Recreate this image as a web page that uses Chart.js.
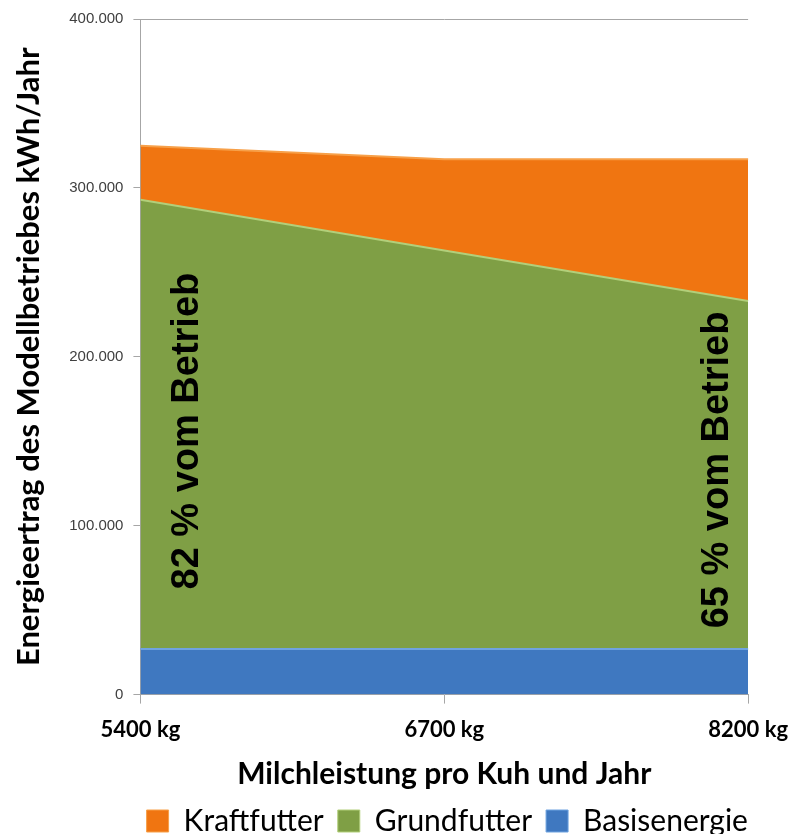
<!DOCTYPE html>
<html>
<head>
<meta charset="utf-8">
<script src="https://cdn.jsdelivr.net/npm/chart.js@4/dist/chart.umd.min.js"></script>
<style>
	body { margin:0; background:#fff; }
	#wrap { position:relative; width:791px; height:834px; }
</style>
</head>
<body>
<div id="wrap"><canvas id="c"></canvas></div>
<script>
const kategorien = ['5400 kg', '6700 kg', '8200 kg']
const basisenergie = [27000, 27000, 27000]
const grundfutter = [266000, 236000, 206000]
const kraftfutter = [32000, 54000, 84000]
const yTicks = [0, 100000, 200000, 300000, 400000]
const anteile = ['82 % vom Betrieb', '65 % vom Betrieb']

const fmt = v => String(v).replace(/\B(?=(\d{3})+(?!\d))/g, '.')

// gedrehte Beschriftung im gruenen Bereich
const anteilText = {
	id: 'anteilText',
	afterDatasetsDraw(chart) {
		const {ctx, scales: {x, y}} = chart
		ctx.save()
		ctx.font = 'bold 38px "Liberation Sans", Arial, sans-serif'
		ctx.fillStyle = '#000'
		ctx.textAlign = 'center'
		ctx.textBaseline = 'middle'
		;[[x.getPixelForValue(0) + 47, y.getPixelForValue(156000), anteile[0]],
		  [x.getPixelForValue(2) - 31, y.getPixelForValue(133000), anteile[1]]].forEach(a => {
			ctx.save()
			ctx.translate(a[0], a[1])
			ctx.rotate(-Math.PI / 2)
			ctx.fillText(a[2], 0, 0)
			ctx.restore()
		})
		ctx.restore()
	}
}

// Legende unter der Zeichenflaeche zentrieren
const legendeMitte = {
	id: 'legendeMitte',
	afterLayout(chart) {
		const l = chart.legend, a = chart.chartArea
		const d = (a.left + a.right) / 2 - (l.left + l.right) / 2 + 3
		l.left += d
		l.right += d
	}
}

new Chart(document.getElementById('c'), {
	type: 'line',
	data: {
		labels: kategorien,
		datasets: [
			{
				label: 'Basisenergie',
				data: basisenergie,
				fill: 'origin',
				backgroundColor: '#3f78c0',
				borderColor: '#6fa3e0',
				borderWidth: 2,
				pointRadius: 0,
				tension: 0,
			},
			{
				label: 'Grundfutter',
				data: grundfutter,
				fill: '-1',
				backgroundColor: '#7f9f45',
				borderColor: '#b2cf7a',
				borderWidth: 2,
				pointRadius: 0,
				tension: 0,
			},
			{
				label: 'Kraftfutter',
				data: kraftfutter,
				fill: '-1',
				backgroundColor: '#f07511',
				borderColor: '#f7a049',
				borderWidth: 2,
				pointRadius: 0,
				tension: 0,
			},
		]
	},
	options: {
		responsive: true,
		maintainAspectRatio: false,
		animation: false,
		layout: { padding: { top: -2, right: 0, left: 10, bottom: -12 } },
		plugins: {
			tooltip: { enabled: false },
			legend: {
				position: 'bottom',
				reverse: true,
				labels: {
					color: '#000',
					boxWidth: 22,
					boxHeight: 22,
					padding: 14,
					font: { family: 'Lato, "Open Sans", sans-serif', size: 30 },
					generateLabels: chart => chart.data.datasets.map((d, i) => ({
						text: d.label,
						fillStyle: d.backgroundColor,
						strokeStyle: d.borderColor,
						lineWidth: 1,
						datasetIndex: i,
					}))
				}
			}
		},
		scales: {
			x: {
				offset: false,
				afterFit: s => { s.paddingRight = Math.max(0, s.paddingRight - 10) },
				border: { color: '#a6a6a6', width: 1 },
				grid: { color: 'transparent', tickColor: '#a6a6a6', tickLength: 9 },
				ticks: {
					color: '#000',
					padding: 13,
					font: { family: 'Lato, "Open Sans", sans-serif', size: 22, weight: 'bold' }
				},
				title: {
					display: true,
					text: 'Milchleistung pro Kuh und Jahr',
					color: '#000',
					padding: { top: 0, bottom: 0 },
					font: { family: 'Lato, "Open Sans", sans-serif', size: 30, weight: 'bold' }
				}
			},
			y: {
				stacked: true,
				min: 0,
				max: 400000,
				afterBuildTicks: s => { s.ticks = yTicks.map(v => ({value: v})) },
				border: { color: '#a6a6a6', width: 1 },
				grid: {
					color: c => c.tick && c.tick.value === 400000 ? '#a6a6a6' : 'transparent',
					tickColor: '#a6a6a6',
					tickLength: 7,
				},
				ticks: {
					color: '#404040',
					padding: 10,
					font: { family: '"Liberation Sans", Arial, sans-serif', size: 15 },
					callback: v => fmt(v)
				},
				title: {
					display: true,
					text: 'Energieertrag des Modellbetriebes kWh/Jahr',
					color: '#000',
					padding: { top: 0, bottom: 12 },
					font: { family: 'Lato, "Open Sans", sans-serif', size: 31, weight: 'bold' }
				}
			}
		}
	},
	plugins: [anteilText, legendeMitte]
})
</script>
</body>
</html>
